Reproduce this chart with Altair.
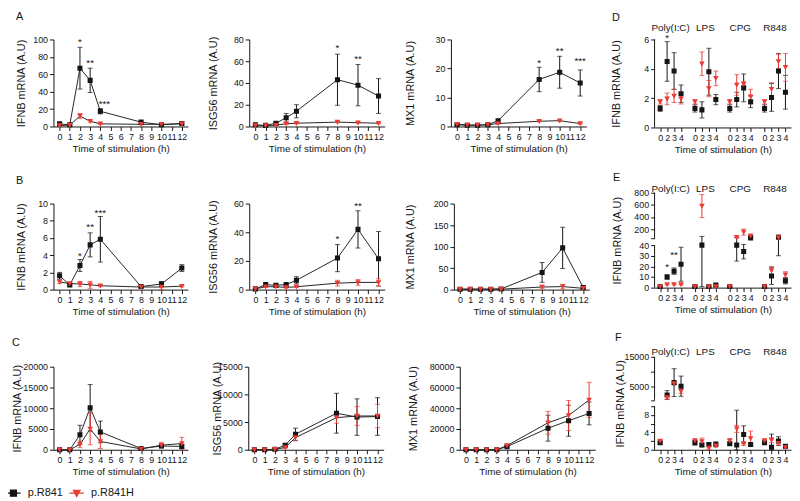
import altair as alt
import pandas as pd

# ---------------- data ----------------
HOURS = [0, 1, 2, 3, 4, 8, 10, 12]
HOUR_TICKS = [0, 1, 2, 3, 4, 5, 6, 7, 8, 9, 10, 11, 12]
SERIES = ["p.R841", "p.R841H"]
GROUPS = ["Poly(I:C)", "LPS", "CPG", "R848"]
STIM_LABELS = ["0", "2", "3", "4"]

# Row A
A_IFNB_WT = [3, 2, 67, 53, 17.5, 5, 2, 3.5]
A_IFNB_WT_SEM = [0.8, 0.5, 24, 14, 3, 0.8, 0.5, 0.8]
A_IFNB_MUT = [1, 1.5, 12, 6, 3, 2.5, 2.5, 3]
A_IFNB_MUT_SEM = [0.5, 0.5, 3, 1, 0.5, 0.5, 0.8, 0.8]
A_IFNB_STARS = [("*", 2, 97), ("**", 3, 73), ("***", 4.4, 26)]

A_ISG_WT = [1.5, 1, 3, 8, 14, 43, 38, 28]
A_ISG_WT_SEM = [0.5, 0.3, 0.5, 4, 6, 23.5, 19, 16]
A_ISG_MUT = [0.8, 0.8, 1.2, 2.5, 3, 4, 3.5, 3]
A_ISG_MUT_SEM = [0.3, 0.3, 0.3, 0.5, 0.5, 0.5, 0.5, 0.5]
A_ISG_STARS = [("*", 8, 72), ("**", 10, 62)]

A_MX1_WT = [0.6, 0.4, 0.4, 0.6, 2, 16.2, 18.7, 15]
A_MX1_WT_SEM = [0.2, 0.1, 0.1, 0.2, 0.3, 4.2, 5.5, 4.5]
A_MX1_MUT = [0.8, 0.5, 0.5, 0.6, 1, 1.8, 2, 1]
A_MX1_MUT_SEM = [0.2, 0.2, 0.2, 0.2, 0.2, 0.2, 0.2, 0.2]
A_MX1_STARS = [("*", 8, 22), ("**", 10, 26), ("***", 12, 22.5)]

# Row B
B_IFNB_WT = [1.6, 0.55, 2.8, 5.2, 5.85, 0.35, 0.65, 2.5]
B_IFNB_WT_SEM = [0.4, 0.2, 0.7, 1.4, 2.65, 0.1, 0.3, 0.4]
B_IFNB_MUT = [0.9, 0.7, 0.65, 0.55, 0.45, 0.3, 0.3, 0.4]
B_IFNB_MUT_SEM = [0.2, 0.1, 0.3, 0.4, 0.1, 0.1, 0.3, 0.1]
B_IFNB_STARS = [("*", 2, 3.95), ("**", 3, 7.3), ("***", 4, 8.9)]

B_ISG_WT = [0.5, 3.5, 3, 3.5, 6.5, 22, 42, 21.5]
B_ISG_WT_SEM = [0.3, 1, 0.8, 0.8, 2.5, 9.5, 13, 19]
B_ISG_MUT = [0.5, 2, 2, 1.5, 2, 4.5, 5, 5]
B_ISG_MUT_SEM = [0.2, 0.5, 0.5, 0.5, 0.5, 2, 2, 2.5]
B_ISG_STARS = [("*", 8, 35), ("**", 10, 58.5)]

B_MX1_WT = [1, 1, 1, 1, 1.5, 40, 97, 5]
B_MX1_WT_SEM = [0.5, 0.5, 0.5, 0.5, 0.5, 23, 48, 3]
B_MX1_MUT = [1, 1, 1, 1, 1, 6, 7, 3]
B_MX1_MUT_SEM = [0.5, 0.5, 0.5, 0.5, 0.5, 4, 5, 1]

# Row C
C_IFNB_WT = [0, 0, 3600, 10100, 4300, 300, 900, 800]
C_IFNB_WT_SEM = [50, 50, 2300, 5600, 2600, 100, 300, 500]
C_IFNB_MUT = [0, 0, 1300, 5000, 2000, 200, 1100, 1500]
C_IFNB_MUT_SEM = [50, 50, 800, 3800, 1700, 100, 700, 1500]

C_ISG_WT = [0, 0, 100, 800, 2800, 6600, 5900, 6000]
C_ISG_WT_SEM = [30, 30, 50, 200, 1100, 3600, 3300, 3400]
C_ISG_MUT = [0, 0, 80, 400, 2200, 5800, 6100, 6100]
C_ISG_MUT_SEM = [30, 30, 50, 150, 600, 1000, 1700, 2100]

C_MX1_WT = [0, 0, 0, 0, 3000, 20800, 28000, 35000]
C_MX1_WT_SEM = [100, 100, 100, 100, 1000, 12500, 15000, 11000]
C_MX1_MUT = [0, 0, 0, 0, 4000, 26000, 33000, 48000]
C_MX1_MUT_SEM = [100, 100, 100, 100, 1500, 11000, 14500, 17000]

# D / E / F : groups Poly(I:C), LPS, CPG, R848 x times 0, 2, 3, 4
D_WT = [1.3, 4.5, 3.85, 2.3, 1.3, 1.2, 3.8, 1.9, 1.3, 1.9, 2.7, 1.75, 1.3, 2.05, 3.85, 2.4]
D_WT_SEM = [0.2, 1.35, 1.25, 0.6, 0.25, 0.55, 1.6, 0.35, 0.25, 0.5, 0.95, 0.4, 0.25, 0.95, 1.2, 1.15]
D_MUT = [1.75, 1.95, 2.15, 1.95, 1.75, 4.35, 2.65, 3.35, 1.75, 2.9, 2.95, 2.1, 1.75, 2.6, 4.5, 4.1]
D_MUT_SEM = [0.15, 0.4, 0.45, 0.35, 0.15, 0.8, 0.55, 0.5, 0.15, 0.7, 0.2, 0.5, 0.15, 0.45, 0.5, 0.95]
D_STARS = [("*", 1, 6.1)]

E_WT = [1, 10, 15.5, 22, 1, 40, 1, 2.5, 1, 40, 34, 55, 1, 11, 65, 6.5]
E_WT_SEM = [0.3, 2, 3, 16, 0.3, 39, 0.3, 1, 0.3, 15, 7, 5, 0.3, 8, 35, 3]
E_MUT = [1, 3, 3, 3, 1, 580, 1, 1, 1, 65, 150, 90, 1, 16, 60, 12]
E_MUT_SEM = [0.3, 0.5, 0.5, 0.5, 0.3, 190, 0.3, 0.3, 0.3, 5, 50, 10, 0.3, 4, 5, 3]
E_STARS = [("*", 1, 19), ("**", 2, 31)]

F_WT = [1.6, 2100, 6300, 5100, 1.6, 1.1, 1.2, 1.3, 1.4, 1.1, 3.5, 1.2, 1.6, 0.6, 2.0, 0.8]
F_WT_SEM = [0.3, 1500, 4700, 3400, 0.5, 0.4, 0.4, 0.2, 0.3, 8, 2, 0.3, 0.3, 3, 1, 0.2]
F_MUT = [2.0, 1300, 6000, 3400, 2.1, 1.9, 0.4, 0.9, 2.1, 4.8, 1.4, 2.6, 2.1, 2.2, 1.5, 0.5]
F_MUT_SEM = [0.3, 500, 300, 700, 0.3, 0.8, 0.3, 0.3, 0.3, 0.8, 0.4, 1.7, 0.3, 0.6, 0.4, 0.2]

# ---------------- style ----------------
BLACK = "#151515"
RED = "#ea3b35"
LINE = "#262626"
FONT = "Liberation Sans"
SERIES_COLORS = [BLACK, RED]
# marker shapes: filled square / triangle-down plus a zero-area line (only stroked in the legend)
SQUARE_LINE = "M-2.4,0H2.4M-1,-1H1V1H-1Z"
TRI_LINE = "M-2.4,0H2.4M-1.1,-0.9L1.1,-0.9L0,1.1Z"
COLOR = alt.Scale(domain=SERIES, range=SERIES_COLORS)
SHAPE = alt.Scale(domain=SERIES, range=[SQUARE_LINE, TRI_LINE])
LEGEND = alt.Legend(title=None, symbolStrokeWidth=1.3, labelOffset=9)


def frame(xs, wt, wt_sem, mut, mut_sem):
    rows = []
    for name, means, sems in ((SERIES[0], wt, wt_sem), (SERIES[1], mut, mut_sem)):
        for x, m, s in zip(xs, means, sems):
            rows.append({"x": x, "series": name, "mean": m, "lo": max(m - s, 0), "hi": m + s})
    return pd.DataFrame(rows)


def data_layers(df, X, ys, ya, line=True):
    def Y(f):
        return alt.Y(f"{f}:Q", scale=ys, axis=ya)
    out = []
    if line:
        out.append(alt.Chart(df).mark_line(color=LINE, strokeWidth=1).encode(
            x=X, y=Y("mean"), detail="series:N"))
    for name, col in zip(SERIES, SERIES_COLORS):
        sub = alt.Chart(df[df["series"] == name])
        out.append(sub.mark_rule(strokeWidth=1, color=col).encode(x=X, y=Y("lo"), y2=alt.Y2("hi")))
        for f in ("lo", "hi"):
            out.append(sub.mark_tick(orient="horizontal", size=5, thickness=1, color=col).encode(
                x=X, y=Y(f)))
    out.append(alt.Chart(df).mark_point(filled=True, size=26, opacity=1, strokeWidth=0).encode(
        x=X, y=Y("mean"),
        color=alt.Color("series:N", scale=COLOR, legend=LEGEND),
        stroke=alt.Stroke("series:N", scale=COLOR, legend=LEGEND),
        shape=alt.Shape("series:N", scale=SHAPE, legend=LEGEND)))
    return out


def star_layer(stars, X, ys, ya):
    sdf = pd.DataFrame(stars, columns=["t", "x", "y"])
    return alt.Chart(sdf).mark_text(fontSize=10, font=FONT, color=BLACK, baseline="middle").encode(
        x=X, y=alt.Y("y:Q", scale=ys, axis=ya), text="t:N")


def y_axis(ticks, title, extent, pad, height, label_expr=None, domain=True):
    kw = dict(values=ticks, title=title, format="d", minExtent=extent, maxExtent=extent,
              titlePadding=pad, labelFlush=False, domain=domain,
              titleX=-(extent + pad), titleY=height / 2, titleAngle=270,
              titleBaseline="bottom", titleAlign="center")
    if label_expr:
        kw["labelExpr"] = label_expr
    return alt.Axis(**kw)


def timecourse(wt, wt_sem, mut, mut_sem, y_max, y_step, y_title, stars, width, height,
               extent, title_pad=2):
    df = frame(HOURS, wt, wt_sem, mut, mut_sem)
    X = alt.X("x:Q", scale=alt.Scale(domain=[-0.6, 12.6], nice=False, zero=False),
              axis=alt.Axis(values=HOUR_TICKS, title="Time of stimulation (h)", labelOverlap=False,
                            labelFlush=False, format="d"))
    ys = alt.Scale(domain=[0, y_max], nice=False)
    ya = y_axis(list(range(0, y_max + 1, y_step)), y_title, extent, title_pad, height)
    ls = data_layers(df, X, ys, ya)
    if stars:
        ls.append(star_layer(stars, X, ys, ya))
    return alt.layer(*ls).properties(width=width, height=height)


def stim_panel(letter, wt, wt_sem, mut, mut_sem, y_domain, y_range, y_ticks, hidden, segments,
               stars, width, height, extent, label_dy, letter_dx, letter_dy, title_pad=2):
    positions = [g * 5 + i for g in range(len(GROUPS)) for i in range(len(STIM_LABELS))]
    df = frame(positions, wt, wt_sem, mut, mut_sem)
    lab_array = "[" + ",".join(f"'{s}'" for s in STIM_LABELS) + "]"
    X = alt.X("x:Q", scale=alt.Scale(domain=[-0.8, 18.8], nice=False, zero=False),
              axis=alt.Axis(values=positions, labelExpr=f"{lab_array}[datum.value % 5]",
                            title="Time of stimulation (h)", labelOverlap=False, labelFlush=False))
    if y_range:
        ys = alt.Scale(domain=y_domain, range=y_range, nice=False, zero=False)
    else:
        ys = alt.Scale(domain=y_domain, nice=False)
    label_expr = "datum.label"
    if hidden is not None:
        label_expr = f"datum.value == {hidden} ? '' : datum.label"
    ya = y_axis(y_ticks, "IFNB mRNA (A.U)", extent, title_pad, height, label_expr, domain=False)
    seg = pd.DataFrame(segments, columns=["lo", "hi"])
    ls = [alt.Chart(seg).mark_rule(color=BLACK, strokeWidth=1).encode(
        x=alt.value(0), y=alt.Y("lo:Q", scale=ys, axis=ya), y2=alt.Y2("hi"))]
    ls += data_layers(df, X, ys, ya, line=False)
    if stars:
        ls.append(star_layer(stars, X, ys, ya))
    gdf = pd.DataFrame({"label": GROUPS, "x": [g * 5 + 1.5 for g in range(len(GROUPS))]})
    ls.append(alt.Chart(gdf).mark_text(fontSize=10, font=FONT, color=BLACK, baseline="middle").encode(
        x=X, y=alt.value(-label_dy), text="label:N"))
    ldf = pd.DataFrame({"letter": [letter]})
    ls.append(alt.Chart(ldf).mark_text(fontSize=11, font=FONT, color=BLACK, baseline="middle",
                                       align="left").encode(
        x=alt.value(letter_dx), y=alt.value(letter_dy), text="letter:N"))
    return alt.layer(*ls).properties(width=width, height=height)


def row(letter, panels, spacing, offset):
    return alt.hconcat(*panels, spacing=spacing).properties(
        title=alt.TitleParams(letter, anchor="start", offset=offset, fontSize=11, fontWeight="normal"))


rowA = row("A", [
    timecourse(A_IFNB_WT, A_IFNB_WT_SEM, A_IFNB_MUT, A_IFNB_MUT_SEM, 100, 20, "IFNB mRNA (A.U)",
               A_IFNB_STARS, 136, 88, 25),
    timecourse(A_ISG_WT, A_ISG_WT_SEM, A_ISG_MUT, A_ISG_MUT_SEM, 80, 20, "ISG56 mRNA (A.U)",
               A_ISG_STARS, 137, 88, 29),
    timecourse(A_MX1_WT, A_MX1_WT_SEM, A_MX1_MUT, A_MX1_MUT_SEM, 30, 10, "MX1 mRNA (A.U)",
               A_MX1_STARS, 137, 88, 34),
], 20, 14)

rowB = row("B", [
    timecourse(B_IFNB_WT, B_IFNB_WT_SEM, B_IFNB_MUT, B_IFNB_MUT_SEM, 10, 2, "IFNB mRNA (A.U)",
               B_IFNB_STARS, 136, 87, 25),
    timecourse(B_ISG_WT, B_ISG_WT_SEM, B_ISG_MUT, B_ISG_MUT_SEM, 60, 20, "ISG56 mRNA (A.U)",
               B_ISG_STARS, 137, 87, 29),
    timecourse(B_MX1_WT, B_MX1_WT_SEM, B_MX1_MUT, B_MX1_MUT_SEM, 200, 50, "MX1 mRNA (A.U)",
               [], 137, 87, 37),
], 20, 14)

rowC = row("C", [
    timecourse(C_IFNB_WT, C_IFNB_WT_SEM, C_IFNB_MUT, C_IFNB_MUT_SEM, 20000, 5000, "IFNB mRNA (A.U)",
               [], 136, 84, 31, title_pad=0),
    timecourse(C_ISG_WT, C_ISG_WT_SEM, C_ISG_MUT, C_ISG_MUT_SEM, 15000, 5000, "ISG56 mRNA (A.U)",
               [], 137, 84, 26, title_pad=0),
    timecourse(C_MX1_WT, C_MX1_WT_SEM, C_MX1_MUT, C_MX1_MUT_SEM, 80000, 20000, "MX1 mRNA (A.U)",
               [], 137, 84, 40),
], 24, 13)

panelD = stim_panel("D", D_WT, D_WT_SEM, D_MUT, D_MUT_SEM, [0, 6], None, [0, 2, 4, 6], None,
                    [(0, 6)], D_STARS, 138, 89, 31, 12, -43, -22)
panelE = stim_panel("E", E_WT, E_WT_SEM, E_MUT, E_MUT_SEM, [0, 40, 50, 800], [96, 53, 46, 0],
                    [0, 10, 20, 30, 40, 50, 200, 400, 600, 800], 50, [(0, 40), (50, 800)],
                    E_STARS, 138, 96, 30, 4, -42, -15)
panelF = stim_panel("F", F_WT, F_WT_SEM, F_MUT, F_MUT_SEM, [0, 10, 500, 15000], [94, 50, 43.5, 0],
                    [0, 2, 4, 6, 8, 10, 500, 5000, 10000, 15000], 500, [(0, 10), (500, 15000)],
                    [], 138, 94, 27, 5, -40, -19)

left = alt.vconcat(rowA, rowB, rowC, spacing=21)
right = alt.vconcat(panelD, panelE, panelF, spacing=18)

chart = alt.hconcat(left, right, spacing=16).properties(
    padding={"left": 0, "top": 0, "right": 0, "bottom": 0}
).configure_view(stroke=None).configure_axis(
    labelFont=FONT, titleFont=FONT, labelFontSize=9, titleFontSize=10,
    labelColor=BLACK, titleColor=BLACK, domainColor=BLACK, tickColor=BLACK,
    tickSize=4, labelPadding=2, titlePadding=2, grid=False, titleFontWeight="normal"
).configure_axisY(titleFontSize=11).configure_title(
    font=FONT, fontWeight="normal", fontSize=11, color=BLACK
).configure_legend(
    orient="none", legendX=-46, legendY=453, direction="horizontal", labelFont=FONT,
    labelFontSize=11, labelColor=BLACK, columnPadding=3, symbolSize=36, padding=0
)

chart.save("out.html", embed_options={"renderer": "svg", "actions": False})
